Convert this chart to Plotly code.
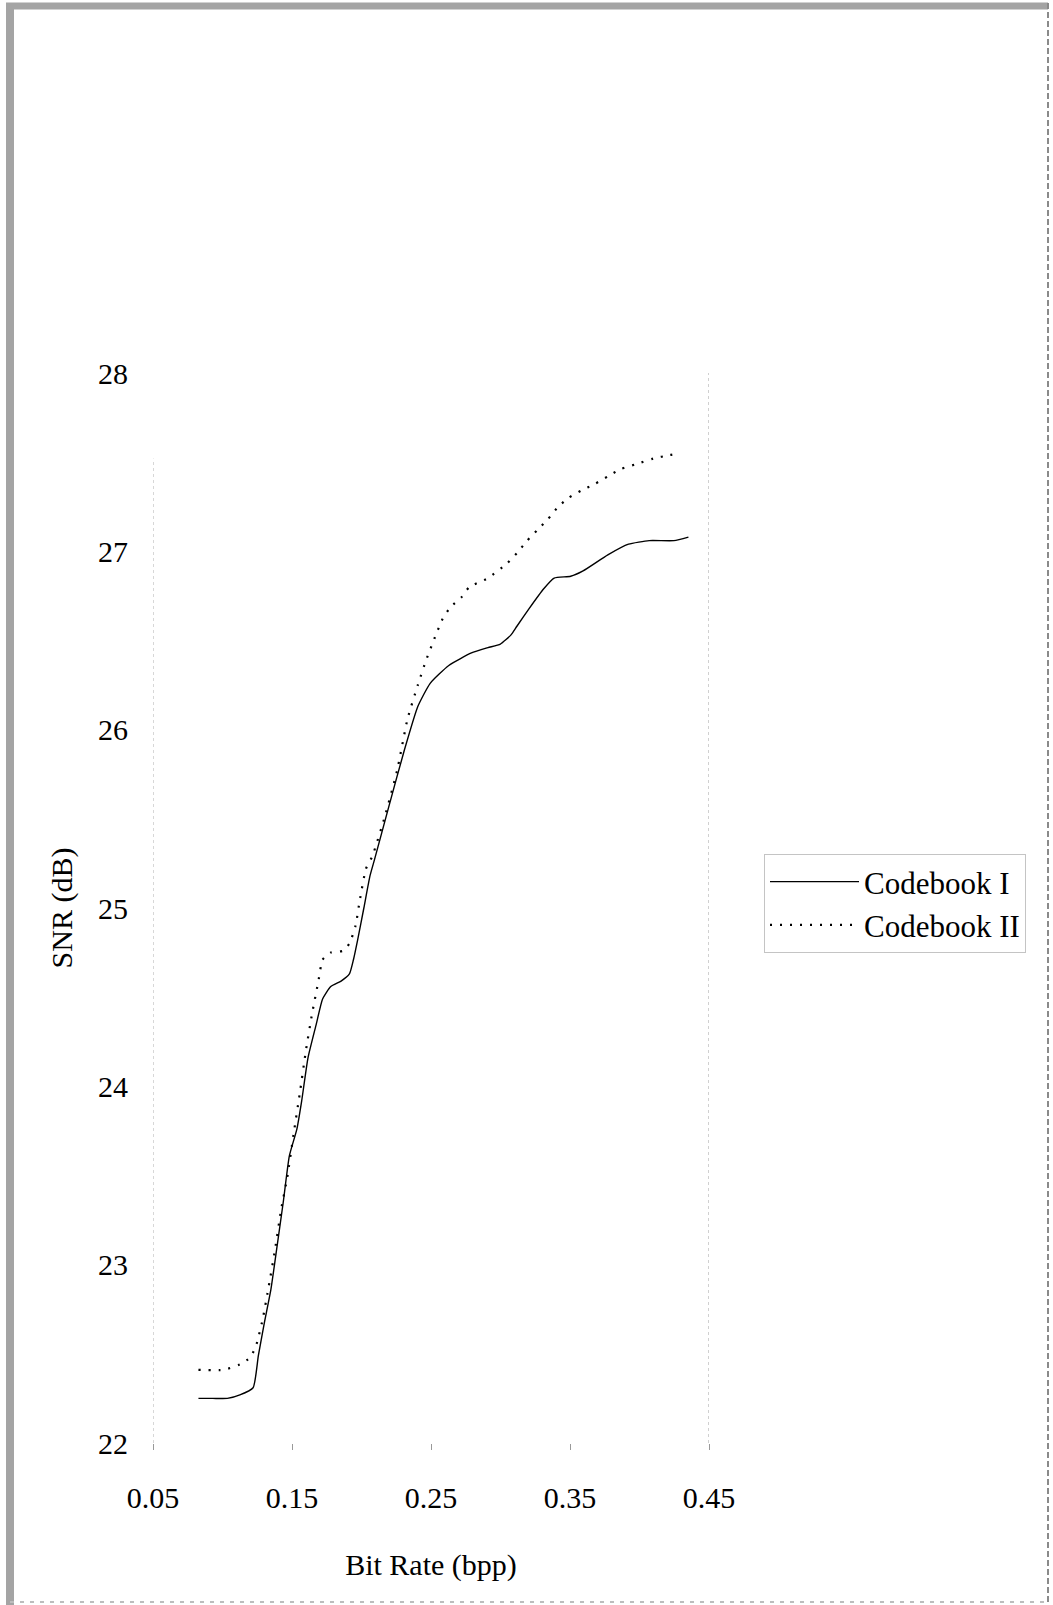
import plotly.graph_objects as go

# Codebook I (solid)
cb1_x = [0.0827, 0.0930, 0.1035, 0.1125, 0.1220, 0.1258, 0.1300, 0.1348, 0.1392, 0.1437,
         0.1481, 0.1535, 0.1570, 0.1615, 0.1675, 0.1720, 0.1779, 0.1853, 0.1913, 0.1942,
         0.1972, 0.2017, 0.2061, 0.2093, 0.2197, 0.2310, 0.2405, 0.2494, 0.2628, 0.2791,
         0.2910, 0.2999, 0.3074, 0.3118, 0.3207, 0.3311, 0.3386, 0.3505, 0.3594, 0.3772,
         0.3921, 0.4070, 0.4248, 0.4352]
cb1_y = [22.25, 22.25, 22.25, 22.27, 22.31, 22.49, 22.67, 22.86, 23.10, 23.35,
         23.61, 23.76, 23.92, 24.16, 24.35, 24.49, 24.56, 24.59, 24.63, 24.71,
         24.82, 25.00, 25.18, 25.27, 25.57, 25.89, 26.13, 26.26, 26.36, 26.43,
         26.46, 26.48, 26.53, 26.58, 26.68, 26.79, 26.85, 26.86, 26.89, 26.98,
         27.04, 27.06, 27.06, 27.08]

# Codebook II (dotted)
cb2_x = [0.0827, 0.1006, 0.1125, 0.1200, 0.1243, 0.1288, 0.1333, 0.1377, 0.1422, 0.1466,
         0.1511, 0.1556, 0.1600, 0.1645, 0.1690, 0.1720, 0.1779, 0.1868, 0.1913, 0.1957,
         0.1987, 0.2032, 0.2078, 0.2167, 0.2256, 0.2331, 0.2405, 0.2465, 0.2524, 0.2583,
         0.2643, 0.2717, 0.2776, 0.2910, 0.3044, 0.3118, 0.3192, 0.3266, 0.3341, 0.3415,
         0.3490, 0.3579, 0.3683, 0.3772, 0.3861, 0.3980, 0.4099, 0.4218, 0.4292]
cb2_y = [22.41, 22.41, 22.44, 22.48, 22.55, 22.69, 22.88, 23.08, 23.31, 23.49,
         23.73, 23.96, 24.20, 24.41, 24.59, 24.71, 24.75, 24.76, 24.80, 24.90,
         25.04, 25.22, 25.29, 25.51, 25.77, 26.06, 26.25, 26.39, 26.51, 26.62,
         26.69, 26.74, 26.80, 26.85, 26.93, 26.99, 27.06, 27.12, 27.18, 27.25,
         27.30, 27.34, 27.38, 27.42, 27.46, 27.49, 27.52, 27.54, 27.55]

x_ticks = [0.05, 0.15, 0.25, 0.35, 0.45]
x_tick_labels = ["0.05", "0.15", "0.25", "0.35", "0.45"]
y_ticks = [22, 23, 24, 25, 26, 27, 28]
series_names = ["Codebook I", "Codebook II"]

FONT = "Liberation Serif"
W, H = 1053, 1605
L, R, T, B = 153, 344, 373, 162
pw, ph = W - L - R, H - T - B


def px_x(p):
    return (p - L) / pw


def px_y(p):
    return (H - B - p) / ph


fig = go.Figure()
fig.add_trace(go.Scatter(x=cb1_x, y=cb1_y, mode="lines", name=series_names[0],
                         line=dict(color="black", width=1.4, shape="spline", smoothing=0.5)))
fig.add_trace(go.Scatter(x=cb2_x, y=cb2_y, mode="lines", name=series_names[1],
                         line=dict(color="black", width=2.2, dash="2px,8px",
                                   shape="spline", smoothing=0.5)))

# faint frame lines of plot area
fig.add_shape(type="line", xref="x", yref="y", x0=0.05, x1=0.05, y0=22, y1=27.52,
              line=dict(color="#b0b0b0", width=1, dash="dot"))
fig.add_shape(type="line", xref="x", yref="y", x0=0.45, x1=0.45, y0=22, y1=28.02,
              line=dict(color="#a0a0a0", width=1, dash="dot"))

# scanned page border
fig.add_shape(type="line", xref="paper", yref="paper",
              x0=px_x(6), x1=px_x(1048), y0=px_y(6), y1=px_y(6),
              line=dict(color="#a4a4a4", width=7))
fig.add_shape(type="line", xref="paper", yref="paper",
              x0=px_x(10), x1=px_x(10), y0=px_y(3), y1=px_y(1605),
              line=dict(color="#a4a4a4", width=8))
fig.add_shape(type="line", xref="paper", yref="paper",
              x0=px_x(1048), x1=px_x(1048), y0=px_y(3), y1=px_y(1605),
              line=dict(color="#8a8a8a", width=2, dash="6px,3px"))
fig.add_shape(type="line", xref="paper", yref="paper",
              x0=px_x(10), x1=px_x(1048), y0=px_y(1602), y1=px_y(1602),
              line=dict(color="#bdbdbd", width=2, dash="4px,6px"))

fig.update_layout(
    width=W, height=H,
    margin=dict(l=L, r=R, t=T, b=B),
    paper_bgcolor="white", plot_bgcolor="white",
    font=dict(family=FONT, size=30, color="black"),
    showlegend=True,
    legend=dict(x=px_x(764), y=px_y(854), xanchor="left", yanchor="top",
                bordercolor="#c4c4c4", borderwidth=1, bgcolor="rgba(0,0,0,0)",
                font=dict(family=FONT, size=31), itemwidth=89, tracegroupgap=0),
    xaxis=dict(range=[0.05, 0.45], tickvals=x_ticks, ticktext=x_tick_labels,
               showgrid=False, zeroline=False, showline=False,
               ticks="outside", ticklen=6, tickcolor="#999999", tickwidth=1,
               ticklabelstandoff=22,
               title=dict(text="Bit Rate (bpp)", standoff=40, font=dict(family=FONT, size=30))),
    yaxis=dict(range=[22, 28], tickvals=y_ticks, showgrid=False, zeroline=False, showline=False,
               ticks="", ticklabelstandoff=24,
               title=dict(text="SNR (dB)", standoff=16, font=dict(family=FONT, size=30))),
)

fig.write_html(
    "out.html",
    config={"displayModeBar": False},
    post_script="document.body.style.margin='0';document.documentElement.style.overflow='hidden';",
)
